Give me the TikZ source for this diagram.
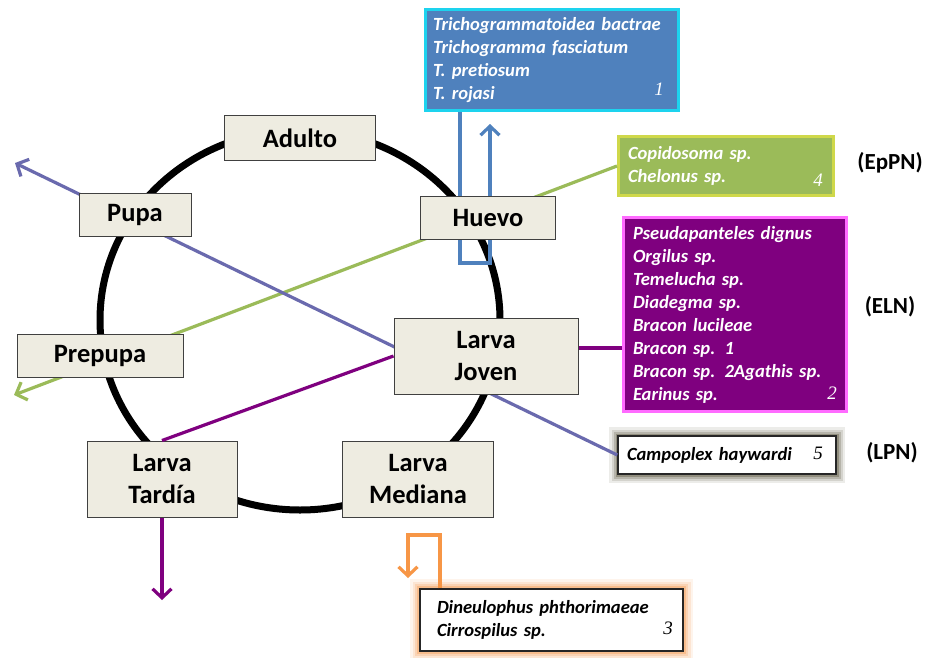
\documentclass[tikz,border=0pt]{standalone}
\usepackage{fontspec}
\setmainfont{Carlito}
\newfontfamily\numfont{Liberation Serif}
\usetikzlibrary{arrows.meta}

\definecolor{stagebg}{HTML}{EEECE1}
\definecolor{eggfill}{HTML}{4F81BD}
\definecolor{eggedge}{HTML}{1DD3EE}
\definecolor{eplfill}{HTML}{9BBB59}
\definecolor{epledge}{HTML}{CFD84A}
\definecolor{elnfill}{HTML}{7F007F}
\definecolor{elnedge}{HTML}{FF6BFF}
\definecolor{lavline}{HTML}{6A6AAE}
\definecolor{orgline}{HTML}{F79646}

\tikzset{
  stage/.style={draw=black!75, line width=1pt, fill=stagebg, align=center,
    inner sep=0pt, font=\bfseries\fontsize{26.5}{32}\selectfont},
  species/.style={line width=3pt, align=left, inner xsep=8pt, inner ysep=0pt,
    font=\bfseries\itshape\fontsize{18.6}{23}\selectfont},
  numtag/.style={font=\numfont\itshape\fontsize{19}{19}\selectfont, inner sep=0pt},
  guild/.style={font=\bfseries\fontsize{23}{23}\selectfont, inner sep=0pt},
  link/.style={line width=3.2pt},
  tip/.style={-{Straight Barb[length=9pt,width=19pt,line width=3.2pt]}}
}

\begin{document}
\begin{tikzpicture}[x=1pt, y=-1pt]
\useasboundingbox[fill=white] (0,0) rectangle (938,657);

% Life cycle ring
\draw[line width=7pt] (300,320) ellipse [x radius=200pt, y radius=190pt];

% Free ends of the connectors
\coordinate (eggL) at (460,263);
\coordinate (eggR) at (490,263);
\coordinate (eggtip) at (490,124);
\coordinate (pupatip) at (15,163);
\coordinate (preptip) at (14,395);
\coordinate (tardiatip) at (162,600);
\coordinate (orgA) at (440,535);
\coordinate (orgB) at (408,535);
\coordinate (orgtip) at (408,578);

% Glow round the two light boxes
\foreach \w/\o in {18/0.10, 13/0.15, 8/0.22, 4/0.35}
  \draw[orgline, line width=\w pt, opacity=\o] (419,588) rectangle (684,652);
\foreach \w/\o in {16/0.10, 11/0.15, 7/0.22, 3/0.35}
  \draw[black!60!olive, line width=\w pt, opacity=\o] (617,435) rectangle (837,475);

% Parasitoid boxes
\node[species, fill=eggfill, draw=eggedge, text=white, minimum width=253pt,
  minimum height=101pt, text width=238pt, inner xsep=7.5pt] (egg) at (552,60)
  {Trichogrammatoidea bactrae\\Trichogramma fasciatum\\T. pretiosum\\T. rojasi};
\node[numtag, text=white] (n1) at (659,89) {1};

\node[species, fill=eplfill, draw=epledge, text=white, minimum width=215pt,
  minimum height=59pt, text width=196pt, inner xsep=9.5pt] (eppn) at (726,166)
  {Copidosoma sp.\\Chelonus sp.};
\node[numtag, text=white] (n4) at (818,180) {4};

\node[species, fill=elnfill, draw=elnedge, text=white, minimum width=223pt,
  minimum height=194pt, text width=204pt, inner xsep=9.5pt] (eln) at (735,314.5)
  {Pseudapanteles dignus\\Orgilus sp.\\Temelucha sp.\\Diadegma sp.\\Bracon lucileae\\Bracon sp. 1\\Bracon sp. 2Agathis sp.\\Earinus sp.};
\node[numtag, text=white] (n2) at (832,393) {2};

\node[species, fill=white, draw=black!85, line width=1.5pt, minimum width=218pt,
  minimum height=38pt, text width=200pt, inner xsep=9pt] (lpn) at (727,455)
  {Campoplex haywardi};
\node[numtag] (n5) at (818,453) {5};

\node[species, fill=white, draw=black!85, line width=1.5pt, minimum width=263pt,
  minimum height=62pt, text width=229pt, inner xsep=17pt] (mid) at (551.5,620)
  {Dineulophus phthorimaeae\\Cirrospilus sp.};
\node[numtag] (n3) at (668,628) {3};

% Guild labels
\node[guild] (epl) at (890,163) {(EpPN)};
\node[guild] (elnlab) at (890,307) {(ELN)};
\node[guild] (lpnlab) at (892,453) {(LPN)};

% Connectors (behind the stage boxes)
\draw[link, eggfill, tip] (egg.south -| eggL) -- (eggL) -- (eggR) -- (eggtip);
\draw[link, eplfill, tip] (eppn.west) -- (preptip);
\draw[link, lavline, tip] (lpn.west) -- (pupatip);
\draw[link, orgline, tip] (mid.north -| orgA) -- (orgA) -- (orgB) -- (orgtip);

% Stage boxes
\node[stage, minimum width=151pt, minimum height=45pt] (adulto) at (300,138) {Adulto};
\node[stage, minimum width=112pt, minimum height=43pt] (pupa) at (135,215) {Pupa};
\node[stage, minimum width=135pt, minimum height=43pt] (huevo) at (488,218) {Huevo};
\node[stage, minimum width=166pt, minimum height=43pt] (prepupa) at (100,356) {Prepupa};
\node[stage, minimum width=184pt, minimum height=76pt] (joven) at (486,356) {Larva\\Joven};
\node[stage, minimum width=150pt, minimum height=76pt] (tardia) at (162,479) {Larva\\Tard\'ia};
\node[stage, minimum width=151pt, minimum height=76pt] (mediana) at (418,479) {Larva\\Mediana};

% Larval connectors
\draw[link, elnfill] (joven.5 -| eln.west) -- (joven.5);
\draw[link, elnfill] (joven.west) -- (tardia.north);
\draw[link, elnfill, tip] (tardia.south) -- (tardiatip);
\end{tikzpicture}
\end{document}
